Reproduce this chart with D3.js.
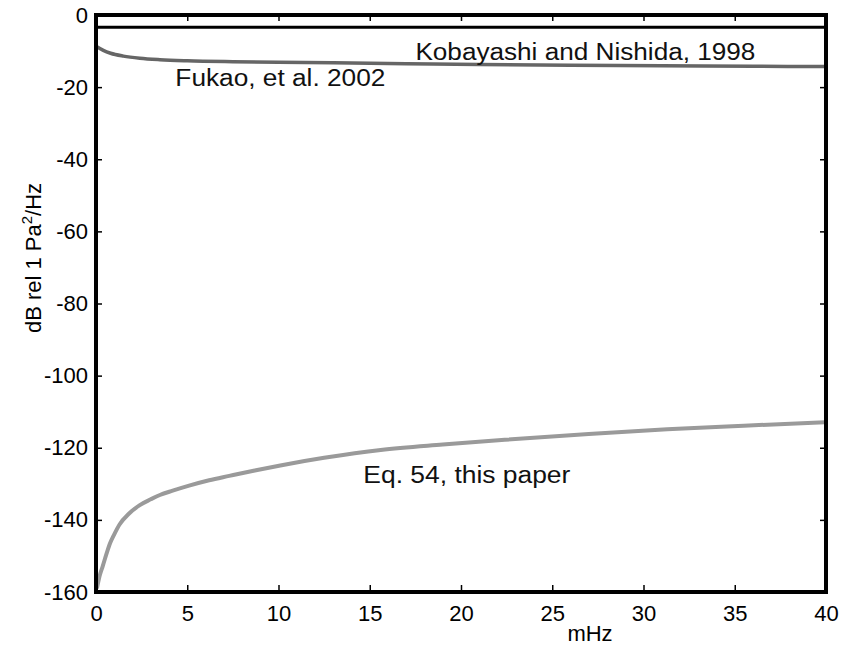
<!DOCTYPE html>
<html>
<head>
<meta charset="utf-8">
<script src="https://cdn.jsdelivr.net/npm/d3@7"></script>
<style>
  body { margin: 0; background: #fff; }
  svg { display: block; }
</style>
</head>
<body>
<div id="main"></div>
<script>
// values (frequency in mHz, level in dB)
var kobayashiX = [0, 40];
var kobayashiY = [-3.4, -3.4];

var fukaoX = [0.05, 0.4, 0.8, 1.5, 2.4, 3.5, 5, 7.5, 10, 13, 17, 21, 26, 31, 36, 40];
var fukaoY = [-8.8, -9.8, -10.6, -11.4, -12.0, -12.4, -12.7, -12.95, -13.1, -13.25, -13.5, -13.7, -13.95, -14.05, -14.2, -14.3];

var eqX = [0.05, 0.2, 0.37, 0.6, 0.77, 1.0, 1.3, 1.8, 2.4, 3.0, 3.5, 4.2, 5.1, 6.2, 7.3, 8.7, 10.1, 12.5, 15.6, 19, 22.4, 27, 31.3, 35.5, 40];
var eqY = [-159, -155.5, -152.8, -149, -146.5, -144, -141.2, -138.3, -135.9, -134.3, -133.1, -131.9, -130.5, -129, -127.8, -126.3, -124.9, -122.8, -120.6, -119.1, -117.8, -116.2, -114.9, -113.9, -112.9];

var xTicks = [0, 5, 10, 15, 20, 25, 30, 35, 40];
var yTicks = [0, -20, -40, -60, -80, -100, -120, -140, -160];

var labels = [
    {text: "Kobayashi and Nishida, 1998", x: 17.5, y: -12.5, width: 340},
    {text: "Fukao, et al. 2002", x: 4.35, y: -19.7, width: 210},
    {text: "Eq. 54, this paper", x: 14.65, y: -129.8, width: 207}
];

var ctx = {
    w: 848,
    h: 649,
    left: 96,
    right: 826,
    top: 15,
    bottom: 592,
    font: "'Liberation Sans', Arial, Helvetica, sans-serif"
};

var createViz = function(){
    var svg = d3.select("#main").append("svg")
        .attr("width", ctx.w)
        .attr("height", ctx.h);
    svg.append("rect").attr("width", ctx.w).attr("height", ctx.h).attr("fill", "#fff");

    ctx.xScale = d3.scaleLinear().domain([0, 40]).range([ctx.left, ctx.right]);
    ctx.yScale = d3.scaleLinear().domain([-160, 0]).range([ctx.bottom, ctx.top]);

    var line = d3.line()
        .x(function(d){ return ctx.xScale(d[0]); })
        .y(function(d){ return ctx.yScale(d[1]); })
        .curve(d3.curveMonotoneX);

    // curves
    svg.append("path")
        .datum(d3.zip(eqX, eqY))
        .attr("d", line)
        .attr("fill", "none")
        .attr("stroke", "#9a9a9a")
        .attr("stroke-width", 4);
    svg.append("path")
        .datum(d3.zip(fukaoX, fukaoY))
        .attr("d", line)
        .attr("fill", "none")
        .attr("stroke", "#666")
        .attr("stroke-width", 3.5);
    svg.append("path")
        .datum(d3.zip(kobayashiX, kobayashiY))
        .attr("d", line)
        .attr("fill", "none")
        .attr("stroke", "#000")
        .attr("stroke-width", 3);

    // axes, ticks pointing inward; plain hyphen for negatives
    var fmt = function(d){ return String(d); };
    var bottomAx = svg.append("g")
        .attr("transform", "translate(0," + ctx.bottom + ")")
        .call(d3.axisBottom(ctx.xScale).tickValues(xTicks).tickSize(-7).tickPadding(13).tickFormat(fmt));
    var topAx = svg.append("g")
        .attr("transform", "translate(0," + ctx.top + ")")
        .call(d3.axisTop(ctx.xScale).tickValues(xTicks).tickSize(-6).tickFormat(""));
    var leftAx = svg.append("g")
        .attr("transform", "translate(" + ctx.left + ",0)")
        .call(d3.axisLeft(ctx.yScale).tickValues(yTicks).tickSize(-6).tickPadding(8).tickFormat(fmt));
    var rightAx = svg.append("g")
        .attr("transform", "translate(" + ctx.right + ",0)")
        .call(d3.axisRight(ctx.yScale).tickValues(yTicks).tickSize(-6).tickFormat(""));
    [bottomAx, topAx, leftAx, rightAx].forEach(function(g){
        g.select(".domain").remove();
        g.selectAll(".tick line").attr("stroke", "#000").attr("stroke-width", 1.5);
        g.selectAll("text")
            .attr("fill", "#000")
            .style("font-family", ctx.font)
            .style("font-size", "22px");
    });

    // frame
    svg.append("rect")
        .attr("x", ctx.left)
        .attr("y", ctx.top)
        .attr("width", ctx.right - ctx.left)
        .attr("height", ctx.bottom - ctx.top)
        .attr("fill", "none")
        .attr("stroke", "#000")
        .attr("stroke-width", 4);

    // curve labels (the original lettering is a bit wider than Arial)
    svg.selectAll("text.lbl")
        .data(labels)
        .enter()
        .append("text")
        .attr("class", "lbl")
        .attr("x", function(d){ return ctx.xScale(d.x); })
        .attr("y", function(d){ return ctx.yScale(d.y); })
        .attr("textLength", function(d){ return d.width; })
        .attr("lengthAdjust", "spacingAndGlyphs")
        .style("font-family", ctx.font)
        .style("font-size", "23px")
        .attr("fill", "#111")
        .text(function(d){ return d.text; });

    // x-axis label
    svg.append("text")
        .attr("x", 590)
        .attr("y", 641)
        .style("text-anchor", "middle")
        .style("font-family", ctx.font)
        .style("font-size", "22px")
        .text("mHz");

    // y-axis label
    var yl = svg.append("text")
        .attr("transform", "translate(41,258) rotate(-90)")
        .style("text-anchor", "middle")
        .style("font-family", ctx.font)
        .style("font-size", "22px");
    yl.append("tspan").text("dB rel 1 Pa");
    yl.append("tspan").attr("dy", -9).style("font-size", "15px").text("2");
    yl.append("tspan").attr("dy", 9).text("/Hz");
};

createViz();
</script>
</body>
</html>
